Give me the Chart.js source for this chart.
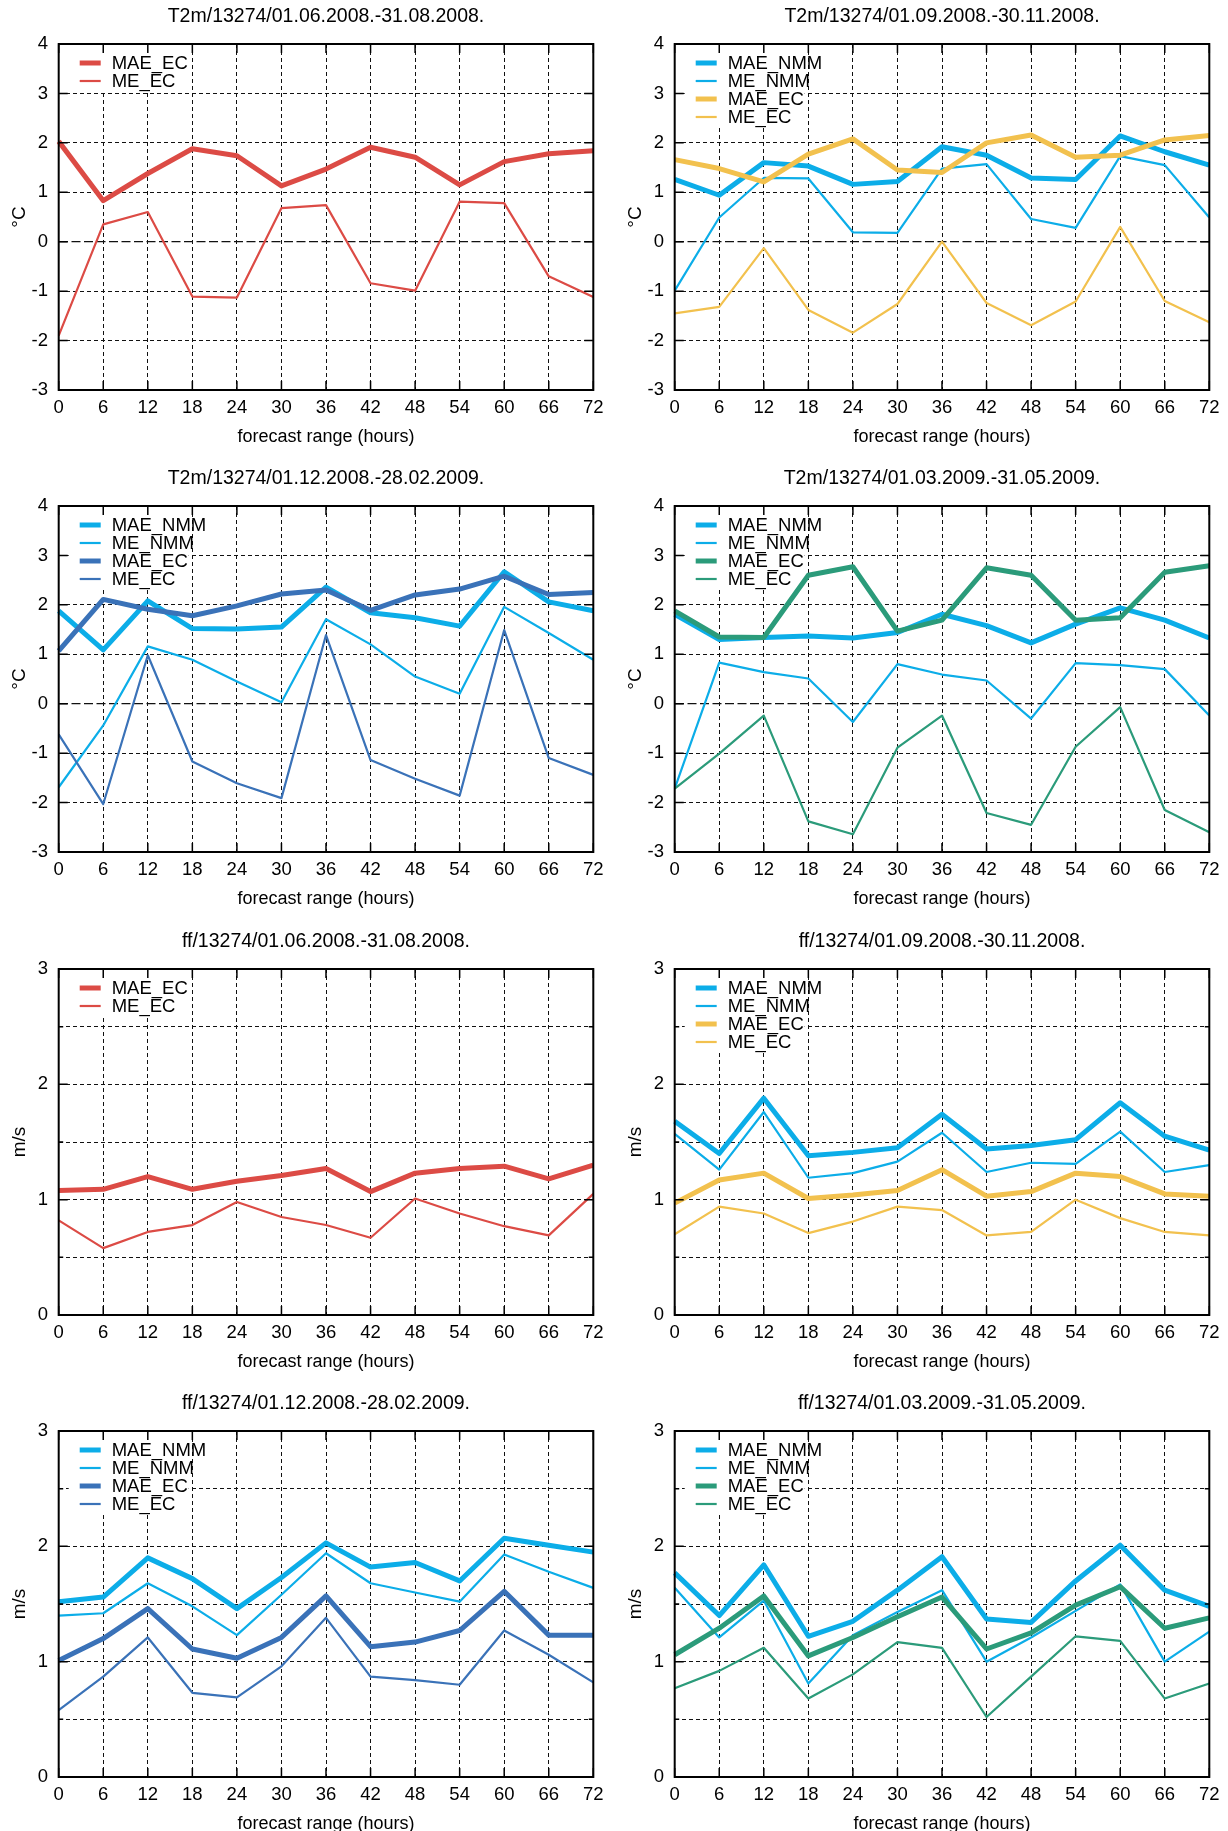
<!DOCTYPE html>
<html>
<head>
<meta charset="utf-8">
<script src="https://cdn.jsdelivr.net/npm/chart.js@4.4.1/dist/chart.umd.min.js"></script>
<style>
  body { margin: 0; width: 1228px; height: 1831px; overflow: hidden; background: #fff; position: relative; }
  canvas { position: absolute; }
</style>
</head>
<body>
<canvas id="c0" width="616" height="462" style="left:0px;top:0px"></canvas>
<canvas id="c1" width="616" height="462" style="left:616px;top:0px"></canvas>
<canvas id="c2" width="616" height="462" style="left:0px;top:462px"></canvas>
<canvas id="c3" width="616" height="462" style="left:616px;top:462px"></canvas>
<canvas id="c4" width="616" height="462" style="left:0px;top:925px"></canvas>
<canvas id="c5" width="616" height="462" style="left:616px;top:925px"></canvas>
<canvas id="c6" width="616" height="462" style="left:0px;top:1387px"></canvas>
<canvas id="c7" width="616" height="462" style="left:616px;top:1387px"></canvas>
<script>
const hours = ["0", "6", "12", "18", "24", "30", "36", "42", "48", "54", "60", "66", "72"];

// T2m, 01.06.2008.-31.08.2008.
const t2mSummerMaeEc = [2.03, 0.83, 1.38, 1.88, 1.74, 1.13, 1.47, 1.91, 1.71, 1.15, 1.62, 1.78, 1.84];
const t2mSummerMeEc = [-1.9, 0.35, 0.6, -1.11, -1.13, 0.68, 0.74, -0.84, -0.99, 0.81, 0.78, -0.7, -1.12];

// T2m, 01.09.2008.-30.11.2008.
const t2mAutumnMaeNmm = [1.26, 0.94, 1.6, 1.53, 1.16, 1.22, 1.92, 1.75, 1.29, 1.26, 2.14, 1.82, 1.55];
const t2mAutumnMeNmm = [-0.99, 0.49, 1.29, 1.28, 0.19, 0.18, 1.48, 1.57, 0.46, 0.28, 1.73, 1.55, 0.49];
const t2mAutumnMaeEc = [1.66, 1.48, 1.21, 1.77, 2.08, 1.45, 1.4, 2.0, 2.16, 1.71, 1.75, 2.06, 2.15];
const t2mAutumnMeEc = [-1.45, -1.32, -0.13, -1.38, -1.84, -1.26, 0.0, -1.24, -1.69, -1.21, 0.3, -1.2, -1.63];

// T2m, 01.12.2008.-28.02.2009.
const t2mWinterMaeNmm = [1.88, 1.09, 2.08, 1.52, 1.51, 1.55, 2.36, 1.84, 1.74, 1.57, 2.67, 2.06, 1.88];
const t2mWinterMeNmm = [-1.69, -0.44, 1.16, 0.89, 0.45, 0.03, 1.71, 1.2, 0.55, 0.2, 1.96, 1.43, 0.89];
const t2mWinterMaeEc = [1.07, 2.11, 1.91, 1.78, 1.98, 2.22, 2.3, 1.89, 2.2, 2.32, 2.58, 2.21, 2.25];
const t2mWinterMeEc = [-0.62, -2.03, 0.98, -1.17, -1.61, -1.91, 1.39, -1.14, -1.52, -1.86, 1.49, -1.1, -1.44];

// T2m, 01.03.2009.-31.05.2009.
const t2mSpringMaeNmm = [1.81, 1.3, 1.34, 1.37, 1.33, 1.44, 1.81, 1.58, 1.23, 1.61, 1.94, 1.69, 1.33];
const t2mSpringMeNmm = [-1.72, 0.83, 0.64, 0.51, -0.37, 0.8, 0.59, 0.47, -0.3, 0.82, 0.78, 0.7, -0.24];
const t2mSpringMaeEc = [1.88, 1.35, 1.34, 2.6, 2.77, 1.47, 1.69, 2.75, 2.6, 1.69, 1.74, 2.66, 2.79];
const t2mSpringMeEc = [-1.72, -1.01, -0.24, -2.38, -2.64, -0.89, -0.24, -2.21, -2.45, -0.87, -0.07, -2.15, -2.6];

// ff, 01.06.2008.-31.08.2008.
const ffSummerMaeEc = [1.08, 1.09, 1.2, 1.09, 1.16, 1.21, 1.27, 1.07, 1.23, 1.27, 1.29, 1.18, 1.3];
const ffSummerMeEc = [0.82, 0.58, 0.72, 0.78, 0.98, 0.85, 0.78, 0.67, 1.01, 0.88, 0.77, 0.69, 1.05];

// ff, 01.09.2008.-30.11.2008.
const ffAutumnMaeNmm = [1.68, 1.4, 1.88, 1.38, 1.41, 1.45, 1.74, 1.44, 1.47, 1.52, 1.84, 1.55, 1.43];
const ffAutumnMeNmm = [1.57, 1.26, 1.76, 1.19, 1.23, 1.33, 1.58, 1.24, 1.32, 1.31, 1.59, 1.24, 1.3];
const ffAutumnMaeEc = [0.97, 1.17, 1.23, 1.01, 1.04, 1.08, 1.26, 1.03, 1.07, 1.23, 1.2, 1.05, 1.03];
const ffAutumnMeEc = [0.7, 0.94, 0.88, 0.71, 0.81, 0.94, 0.91, 0.69, 0.72, 1.0, 0.84, 0.72, 0.69];

// ff, 01.12.2008.-28.02.2009.
const ffWinterMaeNmm = [1.52, 1.56, 1.9, 1.72, 1.46, 1.73, 2.03, 1.82, 1.86, 1.7, 2.07, 2.01, 1.95];
const ffWinterMeNmm = [1.4, 1.42, 1.68, 1.48, 1.23, 1.58, 1.94, 1.68, 1.6, 1.52, 1.93, 1.78, 1.64];
const ffWinterMaeEc = [1.01, 1.2, 1.46, 1.11, 1.03, 1.21, 1.57, 1.13, 1.17, 1.27, 1.61, 1.23, 1.23];
const ffWinterMeEc = [0.58, 0.87, 1.21, 0.73, 0.69, 0.96, 1.38, 0.87, 0.84, 0.8, 1.27, 1.06, 0.82];

// ff, 01.03.2009.-31.05.2009.
const ffSpringMaeNmm = [1.77, 1.4, 1.84, 1.22, 1.35, 1.62, 1.91, 1.37, 1.34, 1.7, 2.01, 1.62, 1.48];
const ffSpringMeNmm = [1.64, 1.21, 1.53, 0.81, 1.23, 1.43, 1.62, 1.0, 1.21, 1.44, 1.67, 1.0, 1.26];
const ffSpringMaeEc = [1.06, 1.29, 1.57, 1.05, 1.21, 1.39, 1.56, 1.11, 1.25, 1.49, 1.65, 1.29, 1.38];
const ffSpringMeEc = [0.77, 0.92, 1.12, 0.68, 0.89, 1.17, 1.12, 0.52, 0.87, 1.22, 1.18, 0.68, 0.81];

const RED = "#dc4b45";
const NMM = "#0cade8";
const YELLOW = "#f2c14e";
const DARKBLUE = "#3a72b8";
const GREEN = "#2b9b7a";
const FONT = '"Liberation Sans", Arial, Helvetica, sans-serif';

// gnuplot-like frame, inward ticks and an opaque key in the top-left corner
const gnuplotLook = {
  id: "gnuplotLook",
  beforeDatasetsDraw(chart) {
    const { ctx, chartArea: a } = chart;
    const ds = chart.data.datasets;
    ctx.save();
    ctx.fillStyle = "#fff";
    ctx.fillRect(a.left + 10, a.top + 1, 120, ds.length * 18 + 11);
    ctx.font = "18.5px " + FONT;
    ctx.textBaseline = "middle";
    ds.forEach((d, i) => {
      const ly = a.top + 19 + i * 18;
      ctx.strokeStyle = d.borderColor;
      ctx.lineWidth = d.borderWidth;
      ctx.beginPath();
      ctx.moveTo(a.left + 21, ly);
      ctx.lineTo(a.left + 42, ly);
      ctx.stroke();
      ctx.fillStyle = "#000";
      ctx.fillText(d.label, a.left + 53, ly + 1);
    });
    ctx.restore();
  },
  afterDatasetsDraw(chart) {
    const { ctx, chartArea: a, scales } = chart;
    ctx.save();
    ctx.strokeStyle = "#000";
    ctx.lineWidth = 1.5;
    ctx.beginPath();
    scales.y.ticks.forEach((t) => {
      const py = scales.y.getPixelForValue(t.value);
      const len = Number.isInteger(t.value) ? 9 : 4.5;
      ctx.moveTo(a.left, py);
      ctx.lineTo(a.left + len, py);
      ctx.moveTo(a.right, py);
      ctx.lineTo(a.right - len, py);
    });
    scales.x.ticks.forEach((t, i) => {
      const px = scales.x.getPixelForTick(i);
      ctx.moveTo(px, a.top);
      ctx.lineTo(px, a.top + 9);
      ctx.moveTo(px, a.bottom);
      ctx.lineTo(px, a.bottom - 9);
    });
    ctx.stroke();
    ctx.lineWidth = 2;
    ctx.strokeRect(a.left, a.top, a.right - a.left, a.bottom - a.top);
    ctx.restore();
  },
};

function makeChart(id, title, unit, yMin, yMax, series) {
  new Chart(id, {
    type: "line",
    data: {
      labels: hours,
      datasets: series.map((s, i) => ({
        label: s[0],
        data: s[1],
        borderColor: s[2],
        borderWidth: s[3] ? 5 : 2.2,
        pointRadius: 0,
        tension: 0,
        fill: false,
        borderJoinStyle: "round",
        order: -i,
      })),
    },
    options: {
      responsive: false,
      animation: false,
      layout: { padding: { left: 0, right: 22.7, top: 0, bottom: 0 } },
      plugins: {
        legend: { display: false },
        tooltip: { enabled: false },
        title: {
          display: true,
          text: title,
          fullSize: false,
          color: "#000",
          font: { family: FONT, size: 19.5, weight: "normal" },
          padding: { top: 5.1, bottom: 15.5 },
        },
      },
      scales: {
        x: {
          type: "category",
          offset: false,
          grid: { color: "#111", lineWidth: 1, drawTicks: false },
          border: { display: false, dash: [4, 3] },
          ticks: { color: "#000", font: { family: FONT, size: 18.5 }, padding: 7.2, autoSkip: false, maxRotation: 0 },
          title: {
            display: true,
            text: "forecast range (hours)",
            color: "#000",
            font: { family: FONT, size: 18 },
            padding: { top: 0, bottom: 14.5 },
          },
          afterFit: (s) => { s.height = 72; },
        },
        y: {
          min: yMin,
          max: yMax,
          grid: { color: "#111", lineWidth: (c) => (c.tick && c.tick.value === 0 ? 1.3 : 1), drawTicks: false },
          border: { display: false, dash: (c) => (c.tick && c.tick.value === 0 ? [9, 3.5] : [4, 3]) },
          ticks: {
            stepSize: 0.5,
            color: "#000",
            font: { family: FONT, size: 18.5 },
            padding: 10.7,
            callback: (v) => (Number.isInteger(v) ? String(v) : ""),
          },
          title: {
            display: true,
            text: unit,
            color: "#000",
            font: { family: FONT, size: 19 },
            padding: { top: 8.6, bottom: 0 },
          },
          afterFit: (s) => { s.width = 58.7; },
        },
      },
    },
    plugins: [gnuplotLook],
  });
}

makeChart("c0", "T2m/13274/01.06.2008.-31.08.2008.", "°C", -3, 4, [
  ["MAE_EC", t2mSummerMaeEc, RED, true],
  ["ME_EC", t2mSummerMeEc, RED, false],
]);
makeChart("c1", "T2m/13274/01.09.2008.-30.11.2008.", "°C", -3, 4, [
  ["MAE_NMM", t2mAutumnMaeNmm, NMM, true],
  ["ME_NMM", t2mAutumnMeNmm, NMM, false],
  ["MAE_EC", t2mAutumnMaeEc, YELLOW, true],
  ["ME_EC", t2mAutumnMeEc, YELLOW, false],
]);
makeChart("c2", "T2m/13274/01.12.2008.-28.02.2009.", "°C", -3, 4, [
  ["MAE_NMM", t2mWinterMaeNmm, NMM, true],
  ["ME_NMM", t2mWinterMeNmm, NMM, false],
  ["MAE_EC", t2mWinterMaeEc, DARKBLUE, true],
  ["ME_EC", t2mWinterMeEc, DARKBLUE, false],
]);
makeChart("c3", "T2m/13274/01.03.2009.-31.05.2009.", "°C", -3, 4, [
  ["MAE_NMM", t2mSpringMaeNmm, NMM, true],
  ["ME_NMM", t2mSpringMeNmm, NMM, false],
  ["MAE_EC", t2mSpringMaeEc, GREEN, true],
  ["ME_EC", t2mSpringMeEc, GREEN, false],
]);
makeChart("c4", "ff/13274/01.06.2008.-31.08.2008.", "m/s", 0, 3, [
  ["MAE_EC", ffSummerMaeEc, RED, true],
  ["ME_EC", ffSummerMeEc, RED, false],
]);
makeChart("c5", "ff/13274/01.09.2008.-30.11.2008.", "m/s", 0, 3, [
  ["MAE_NMM", ffAutumnMaeNmm, NMM, true],
  ["ME_NMM", ffAutumnMeNmm, NMM, false],
  ["MAE_EC", ffAutumnMaeEc, YELLOW, true],
  ["ME_EC", ffAutumnMeEc, YELLOW, false],
]);
makeChart("c6", "ff/13274/01.12.2008.-28.02.2009.", "m/s", 0, 3, [
  ["MAE_NMM", ffWinterMaeNmm, NMM, true],
  ["ME_NMM", ffWinterMeNmm, NMM, false],
  ["MAE_EC", ffWinterMaeEc, DARKBLUE, true],
  ["ME_EC", ffWinterMeEc, DARKBLUE, false],
]);
makeChart("c7", "ff/13274/01.03.2009.-31.05.2009.", "m/s", 0, 3, [
  ["MAE_NMM", ffSpringMaeNmm, NMM, true],
  ["ME_NMM", ffSpringMeNmm, NMM, false],
  ["MAE_EC", ffSpringMaeEc, GREEN, true],
  ["ME_EC", ffSpringMeEc, GREEN, false],
]);
</script>
</body>
</html>
